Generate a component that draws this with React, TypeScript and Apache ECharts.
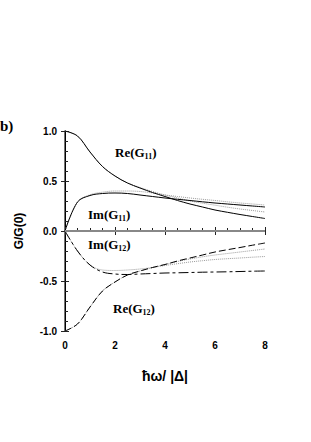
import React, { useEffect, useRef } from "react";
import * as echarts from "echarts";

// x positions (ħω/|Δ|)
const xs = [0, 0.5, 1, 1.5, 2, 2.5, 3, 3.5, 4, 4.5, 5, 5.5, 6, 6.5, 7, 7.5, 8];
// G11
const re11 = [1.0, 0.95, 0.79, 0.645, 0.55, 0.48, 0.43, 0.385, 0.345, 0.305, 0.27, 0.24, 0.21, 0.187, 0.165, 0.145, 0.125];
const re11Dot = [1.0, 0.95, 0.79, 0.645, 0.55, 0.48, 0.435, 0.395, 0.36, 0.33, 0.3, 0.278, 0.258, 0.238, 0.22, 0.205, 0.19];
const im11 = [0, 0.29, 0.355, 0.375, 0.38, 0.375, 0.36, 0.345, 0.33, 0.317, 0.305, 0.292, 0.28, 0.27, 0.26, 0.25, 0.24];
const im11Dot = [0, 0.29, 0.362, 0.388, 0.4, 0.4, 0.395, 0.38, 0.36, 0.345, 0.33, 0.317, 0.305, 0.292, 0.28, 0.27, 0.26];
// G12
const re12 = [-1.0, -0.93, -0.76, -0.6, -0.51, -0.44, -0.4, -0.365, -0.335, -0.3, -0.27, -0.24, -0.21, -0.187, -0.165, -0.142, -0.12];
const re12Dot = [-1.0, -0.93, -0.76, -0.6, -0.51, -0.44, -0.4, -0.365, -0.335, -0.305, -0.28, -0.258, -0.24, -0.225, -0.21, -0.195, -0.18];
const im12 = [0, -0.2, -0.34, -0.41, -0.43, -0.435, -0.43, -0.425, -0.42, -0.418, -0.415, -0.412, -0.41, -0.408, -0.405, -0.402, -0.4];
const im12Dot = [0, -0.2, -0.34, -0.39, -0.395, -0.39, -0.38, -0.365, -0.345, -0.327, -0.31, -0.297, -0.285, -0.277, -0.27, -0.262, -0.255];

const pts = (ys: number[]) => xs.map((x, i) => [x, ys[i]]);

const SANS = "Liberation Sans, Arial, sans-serif";
const SERIF = "Liberation Serif, Times New Roman, serif";

function label(text: string, sub: string, x: number, y: number) {
  return {
    type: "text",
    x,
    y,
    style: {
      text: `{a|${text}}{b|${sub}}{a|)}`,
      verticalAlign: "middle",
      rich: {
        a: { fontFamily: SERIF, fontWeight: "bold", fontSize: 13, lineHeight: 16, fill: "#000" },
        b: { fontFamily: SERIF, fontWeight: "bold", fontSize: 8, lineHeight: 7, verticalAlign: "bottom", fill: "#000" },
      },
    },
  };
}

export default function App() {
  const ref = useRef<HTMLDivElement>(null);
  useEffect(() => {
    document.body.style.margin = "0";
    const chart = echarts.init(ref.current!, null, { renderer: "svg" });
    const line = (data: number[][], color: string, type: any, width = 1, extra: any = {}) => ({
      type: "line",
      data,
      xAxisIndex: 0,
      yAxisIndex: 0,
      showSymbol: false,
      symbol: "none",
      smooth: 0.35,
      lineStyle: { color, width, type },
      ...extra,
    });
    chart.setOption({
      animation: false,
      grid: { left: 65, right: 46, top: 131, bottom: 111 },
      xAxis: [
        {
          type: "value",
          min: 0,
          max: 8,
          interval: 2,
          position: "bottom",
          name: "ħω/ |Δ|",
          nameLocation: "middle",
          nameGap: 38,
          nameTextStyle: { fontFamily: SANS, fontWeight: "bold", fontSize: 14, color: "#000" },
          axisLine: { show: true, lineStyle: { color: "#444", width: 1.5 } },
          axisTick: { show: true, inside: false, length: 4, lineStyle: { color: "#222" } },
          axisLabel: { fontFamily: SANS, fontWeight: "bold", fontSize: 10, color: "#000", margin: 9 },
          splitLine: { show: false },
        },
        {
          type: "value",
          min: 0,
          max: 8,
          interval: 2,
          position: "bottom",
          axisLine: { show: false },
          axisTick: { show: true, inside: true, length: 4, lineStyle: { color: "#222" } },
          minorTick: { show: true, splitNumber: 4, length: 3, lineStyle: { color: "#222" } },
          axisLabel: { show: false },
          splitLine: { show: false },
        },
        {
          type: "value",
          min: 0,
          max: 8,
          position: "top",
          axisLine: { show: true, lineStyle: { color: "#666", width: 2 } },
          axisTick: { show: false },
          axisLabel: { show: false },
          splitLine: { show: false },
        },
      ],
      yAxis: [
        {
          type: "value",
          min: -1,
          max: 1,
          interval: 0.5,
          position: "left",
          name: "G/G(0)",
          nameLocation: "middle",
          nameGap: 40,
          nameTextStyle: { fontFamily: SANS, fontWeight: "bold", fontSize: 12, color: "#000" },
          axisLine: { show: true, lineStyle: { color: "#444", width: 1.5 } },
          axisTick: { show: true, inside: false, length: 4, lineStyle: { color: "#222" } },
          axisLabel: {
            fontFamily: SANS,
            fontWeight: "bold",
            fontSize: 10,
            color: "#000",
            margin: 8,
            formatter: (v: number) => v.toFixed(1),
          },
          splitLine: { show: false },
        },
        {
          type: "value",
          min: -1,
          max: 1,
          interval: 0.5,
          position: "left",
          axisLine: { show: false },
          axisTick: { show: true, inside: true, length: 4, lineStyle: { color: "#222" } },
          minorTick: { show: true, splitNumber: 5, length: 3, lineStyle: { color: "#222" } },
          axisLabel: { show: false },
          splitLine: { show: false },
        },
        {
          type: "value",
          min: -1,
          max: 1,
          position: "right",
          axisLine: { show: true, lineStyle: { color: "#000", width: 1 } },
          axisTick: { show: false },
          axisLabel: { show: false },
          splitLine: { show: false },
        },
      ],
      series: [
        line(pts(re11Dot), "#9a9a9a", [1, 1], 1, {
          markLine: {
            silent: true,
            symbol: "none",
            label: { show: false },
            lineStyle: { color: "#888", width: 2, type: "solid" },
            data: [{ yAxis: 0 }],
          },
        }),
        line(pts(im11Dot), "#9a9a9a", [1, 1]),
        line(pts(re12Dot), "#9a9a9a", [1, 1]),
        line(pts(im12Dot), "#9a9a9a", [1, 1]),
        line(pts(re11), "#000", "solid"),
        line(pts(im11), "#000", "solid"),
        line(pts(re12), "#000", [7, 3]),
        line(pts(im12), "#000", [10, 3, 3, 3]),
      ],
      graphic: [
        {
          type: "text",
          x: 0,
          y: 126,
          style: {
            text: "b)",
            fontFamily: SERIF,
            fontWeight: "bold",
            fontSize: 15,
            fill: "#000",
            verticalAlign: "middle",
          },
        },
        label("Re(G", "11", 115, 152),
        label("Im(G", "11", 88, 214),
        label("Im(G", "12", 88, 244),
        label("Re(G", "12", 113, 308),
      ],
    });
    return () => chart.dispose();
  }, []);
  return <div ref={ref} style={{ width: 311, height: 442 }} />;
}
